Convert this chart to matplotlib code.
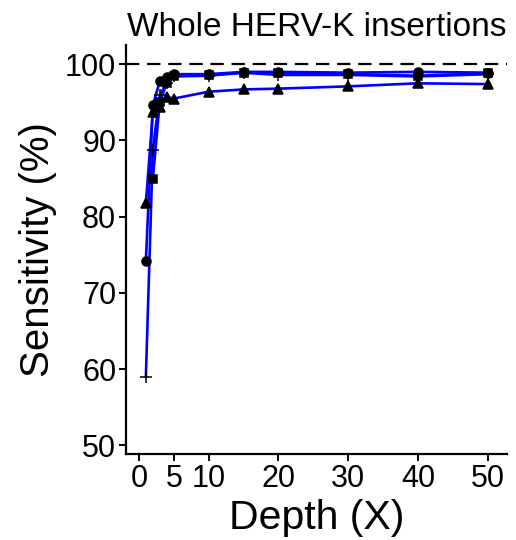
import matplotlib
matplotlib.use("Agg")
import matplotlib.pyplot as plt

plt.rcParams["font.family"] = ["Liberation Sans", "DejaVu Sans"]

# depth values and sensitivity (%) per series
depth = [1, 2, 3, 4, 5, 10, 15, 20, 30, 40, 50]
depth_sq = [2, 3, 4, 5, 10, 15, 20, 30, 40, 50]
sens_circle = [74.2, 94.6, 97.8, 98.3, 98.7, 98.7, 99.0, 99.0, 98.9, 99.0, 98.9]
sens_triangle = [81.8, 93.7, 94.4, 95.7, 95.5, 96.4, 96.7, 96.8, 97.1, 97.5, 97.4]
sens_plus = [59.0, 88.8, 96.0, 97.5, 98.4, 98.5, 98.9, 98.6, 98.6, 98.4, 98.7]
sens_square = [85.0, 95.1, 97.5, 98.5, 98.6, 98.9, 98.8, 98.7, 98.5, 98.8]

x_ticks = [0, 5, 10, 20, 30, 40, 50]
y_ticks = [50, 60, 70, 80, 90, 100]

fig = plt.figure(figsize=(5.16, 5.40), dpi=100)
ax = fig.add_axes([0.244, 0.159, 0.738, 0.758])

ax.axhline(100, color="black", lw=1.6, ls=(0, (6, 3.5)), zorder=1)

series = [
    (depth, sens_circle, "o", 6.5),
    (depth, sens_triangle, "^", 6.5),
    (depth, sens_plus, "+", 8),
    (depth_sq, sens_square, "s", 6),
]
for xs, ys, m, ms in series:
    ax.plot(xs, ys, color="#0000FF", lw=1.9, zorder=2)
for xs, ys, m, ms in series:
    ax.plot(xs, ys, ls="none", marker=m, ms=ms, color="black", mew=1.1, zorder=3)

ax.set_xlim(-1.86, 52.7)
ax.set_ylim(48.85, 102.55)
ax.set_xticks(x_ticks)
ax.set_yticks(y_ticks)

for s in ["top", "right"]:
    ax.spines[s].set_visible(False)
for s in ["left", "bottom"]:
    ax.spines[s].set_linewidth(1.6)
ax.tick_params(axis="both", labelsize=22, width=1.4, length=5, color="black", labelcolor="black", pad=2)

ax.set_xlabel("Depth (X)", fontsize=29.5, labelpad=4)
ax.set_ylabel("Sensitivity (%)", fontsize=29, labelpad=6)
ax.set_title("Whole HERV-K insertions", fontsize=24, pad=6)

fig.savefig("out.png", dpi=100)
